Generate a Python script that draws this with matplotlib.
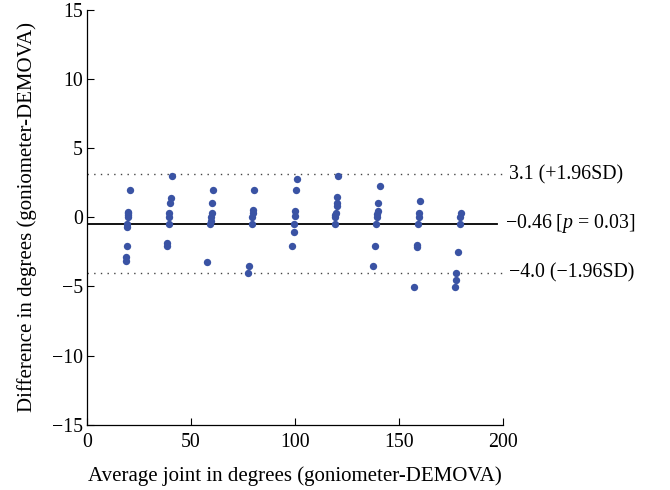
import numpy as np
import matplotlib
matplotlib.use("Agg")
import matplotlib.pyplot as plt

# du lieu doc tu hinh: trung binh khop va chenh lech (goniometer - DEMOVA)
avg_x = [20.5, 19.6, 19.6, 19.6, 19.6, 19.4, 19.2, 19.0, 18.8, 18.6,
         41.0, 40.2, 39.8, 39.6, 39.4, 39.2, 38.5, 38.5,
         60.4, 60.0, 59.8, 59.6, 59.4, 59.2, 57.8,
         80.4, 79.8, 79.6, 79.4, 79.2, 77.7, 77.4,
         101.0, 100.5, 100.0, 99.8, 99.6, 99.4, 98.6,
         120.8, 120.3, 120.0, 120.0, 119.6, 119.4, 119.2, 119.0,
         140.7, 140.0, 139.6, 139.4, 139.2, 139.0, 138.6, 137.6,
         160.1, 159.6, 159.4, 159.2, 158.5, 158.5, 157.0,
         179.8, 179.4, 179.2, 178.2, 177.4, 177.2, 177.0]
diff_y = [2.0, 0.4, 0.3, 0.15, 0.0, -0.46, -0.7, -2.05, -2.84, -3.13,
          3.0, 1.4, 1.0, 0.34, 0.02, -0.46, -1.83, -2.05,
          2.0, 1.0, 0.34, 0.0, -0.3, -0.46, -3.23,
          2.0, 0.5, 0.3, 0.0, -0.46, -3.54, -4.02,
          2.77, 2.0, 0.45, 0.1, -0.46, -1.04, -2.05,
          3.0, 1.47, 1.0, 0.82, 0.34, 0.15, 0.0, -0.46,
          2.27, 1.0, 0.46, 0.27, 0.02, -0.46, -2.05, -3.54,
          1.16, 0.34, 0.02, -0.46, -2.0, -2.15, -5.04,
          0.34, 0.0, -0.46, -2.53, -4.02, -4.55, -5.04]

mean_diff = -0.46
upper_loa = 3.1
lower_loa = -4.0
nhan_mean = "\u22120.46 [$\\it{p}$ = 0.03]"
nhan_upper = "3.1 (+1.96SD)"
nhan_lower = "\u22124.0 (\u22121.96SD)"

x_ticks = [0, 50, 100, 150, 200]
y_ticks = [-15, -10, -5, 0, 5, 10, 15]

plt.rcParams['font.family'] = ['Liberation Serif', 'DejaVu Serif']
plt.rcParams['mathtext.fontset'] = 'custom'
plt.rcParams['mathtext.it'] = 'Liberation Serif:italic'

fig = plt.figure(figsize=(6.7, 4.9), dpi=100)
ax = fig.add_axes([0.13, 0.133, 0.621, 0.847])

# cac duong trung binh va gioi han
ax.axhline(mean_diff, xmin=0, xmax=0.985, color='black', lw=1.3, zorder=1)
ax.axhline(upper_loa, xmin=0, xmax=1.0, color='#444444', lw=1.0, ls=(0, (1, 3.8)), zorder=1)
ax.axhline(lower_loa, xmin=0, xmax=1.0, color='#444444', lw=1.0, ls=(0, (1, 3.8)), zorder=1)

ax.scatter(avg_x, diff_y, s=28, color='#3A53A4', zorder=3, linewidths=0)

ax.text(203, upper_loa, nhan_upper, va='center', ha='left', fontsize=14.3)
ax.text(201, mean_diff, nhan_mean, va='center', ha='left', fontsize=14.3)
ax.text(203, lower_loa, nhan_lower, va='center', ha='left', fontsize=14.3)

ax.set_xlim(0, 200)
ax.set_ylim(-15, 15)
ax.set_xticks(x_ticks)
ax.set_yticks(y_ticks)
ax.set_yticklabels([str(v).replace('-', '\u2212') for v in y_ticks])
ax.tick_params(direction='in', length=5, labelsize=14.3, width=0.8, pad=3)
ax.tick_params(axis='x', pad=6)
for s in ['top', 'right']:
    ax.spines[s].set_visible(False)
ax.spines['left'].set_linewidth(0.9)
ax.spines['bottom'].set_linewidth(0.9)

ax.set_xlabel('Average joint in degrees (goniometer-DEMOVA)', fontsize=15, labelpad=10)
ax.set_ylabel('Difference in degrees (goniometer-DEMOVA)', fontsize=15, labelpad=11)

fig.savefig('out.png', dpi=100)
